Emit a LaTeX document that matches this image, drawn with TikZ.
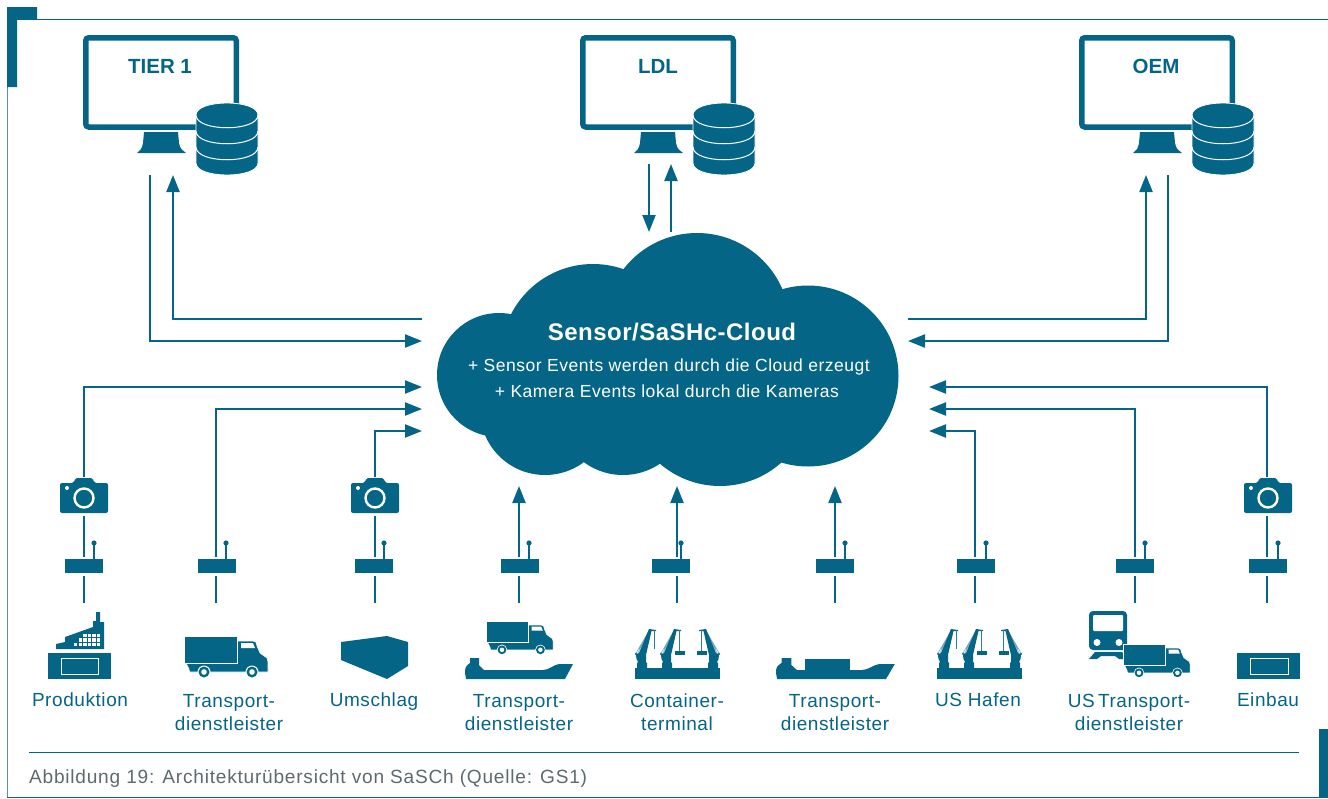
\documentclass[tikz,border=0pt]{standalone}
\usepackage{fontspec}
\setmainfont{Liberation Sans}
\newfontfamily\spacedA[LetterSpace=3]{Liberation Sans}
\newfontfamily\spacedB[LetterSpace=4]{Liberation Sans}
\newfontfamily\spacedC[LetterSpace=2]{Liberation Sans}
\usetikzlibrary{arrows.meta}
\definecolor{teal}{HTML}{056587}
\definecolor{capgrey}{HTML}{5F6A70}
\tikzset{
  x=1pt,y=-1pt,
  conn/.style={draw=teal,line width=2.2pt},
  arr/.style={conn,-{Triangle[length=17pt,width=13pt]}},
  lab/.style={text=teal,font=\spacedA\fontsize{19}{23}\selectfont,align=center,inner sep=0pt,anchor=center},
  mon/.style={text=teal,font=\bfseries\fontsize{20.5}{24}\selectfont,inner sep=0pt},
  tag/.style={fill=teal,minimum width=38pt,minimum height=14pt,inner sep=0pt},
  pics/monitor/.style={code={
    \draw[teal,line width=5.5pt,rounded corners=3pt,fill=white] (2.75,2.75) rectangle (153.25,92);
    \fill[teal] (61,97) -- (95,97) -- (96,108) .. controls (97,114) and (100,116) .. (103,118) -- (54,118) .. controls (57,116) and (59,114) .. (60,108) -- cycle;
    \begin{scope}[shift={(113,68)}]
      \path[fill=teal,draw=white,line width=.8pt] (0,12) .. controls (0,-4) and (62,-4) .. (62,12) -- (62,60) .. controls (62,76) and (0,76) .. (0,60) -- cycle;
      \foreach \yy in {12,28,44}
        \draw[white,line width=1pt] (0,\yy) .. controls (0,\yy+17) and (62,\yy+17) .. (62,\yy);
    \end{scope}
  }},
  pics/camera/.style={code={
    \fill[teal,rounded corners=2pt] (0,5) -- (14,5) -- (15,0) -- (33,0) -- (34,5) -- (48,5) -- (48,35) -- (0,35) -- cycle;
    \draw[white,line width=2.4pt] (24,20) circle[radius=9.5];
    \fill[white] (7,10) circle[radius=2];
  }},
  pics/truck/.style={code={
    \path[fill=teal,draw=white,line width=.6pt] (2,27) -- (53,27) -- (53,5) -- (69,5) .. controls (72,5) and (72,6) .. (73,10) -- (76,17) -- (83,22) .. controls (84,24) and (84,24) .. (84,36) -- (6,36) .. controls (6,36) and (5,36) .. (5,33) -- cycle;
    \path[fill=teal,draw=white,line width=.8pt] (0,0) rectangle (53,27);
    \fill[white] (57,7) -- (69,7) -- (71,12) -- (57,12) -- cycle;
    \foreach \wx in {20,68}{
      \path[fill=white] (\wx,36) circle[radius=6.5];
      \path[fill=teal] (\wx,36) circle[radius=5.5];
      \path[fill=white] (\wx,36) circle[radius=2.8];
    }
  }},
  pics/ship/.style={code={
    \fill[teal] (0,21) .. controls (0,15) and (1,14) .. (5,11) -- (5,6) -- (14,6) -- (14,13) -- (19,18) -- (78,18) .. controls (84,18) and (88,13) .. (94,12) -- (108,12) -- (100,27) -- (1,27) -- cycle;
  }},
  pics/crane/.style={code={
    % local origin: pier's left end, top of the boom at (15,0)
    \draw[teal!55,line width=.6pt] (0.5,25) -- (15,0) (2.5,25) -- (15,0) (4,20) -- (15,0);
    \fill[teal] (14,0) -- (21,1) -- (21,2) -- (16.5,2) -- (11,26) -- (11,33) -- (12,34) -- (12,39) -- (2,39) -- (2,34) -- (3,33) -- (1.5,30) -- (1,26) -- (0,25) -- (1,23.5) -- (2,25) -- (4,24) -- cycle;
  }},
  pics/pier/.style={code={
    \fill[teal] (0,39) rectangle (85,50);
    \pic {crane};
    \draw[teal!85,line width=1pt] (19,1) -- (19,20);
    \pic[shift={(25,0)}] {crane};
    \draw[teal!85,line width=1pt] (44,1) -- (44,22);
    \fill[teal] (40,22) rectangle (50,26);
    \pic[shift={(85,0)},xscale=-1] {crane};
    \draw[teal!85,line width=1pt] (66,1) -- (66,22);
    \fill[teal] (62,22) rectangle (72,26);
  }},
}
\begin{document}
\begin{tikzpicture}
\useasboundingbox (0,0) rectangle (1328,798);
\fill[white] (0,0) rectangle (1328,798);

% frame
\draw[teal,line width=1pt] (8,19) -- (1328,19);
\draw[teal!70,line width=1pt] (7,19) -- (7,798);
\draw[teal,line width=1pt] (7,797) -- (1328,797);
\fill[teal] (7,7) -- (37,7) -- (37,19) -- (17,19) -- (17,87) -- (7,87) -- cycle;
\fill[teal] (1319,729) rectangle (1328,798);
\draw[teal,line width=1pt] (29,752) -- (1299,752);
\node[anchor=base west,inner sep=0pt,text=capgrey,font=\spacedB\fontsize{19.1}{23}\selectfont] (caption) at (29,783) {Abbildung 19: Architekturübersicht von SaSCh (Quelle: GS1)};

% monitors
\pic at (83,35) {monitor};
\pic at (580,35) {monitor};
\pic at (1079,35) {monitor};
\node[mon] (tier) at (160,66) {TIER 1};
\node[mon] (ldl) at (658,66) {LDL};
\node[mon] (oem) at (1156,66) {OEM};

% cloud
\fill[teal] (499,375) circle[radius=62] (593,356) circle[radius=92] (697,326) circle[radius=93]
  (808,376) circle[radius=90.5] (720,394) circle[radius=92] (623,409) circle[radius=66] (545,410) circle[radius=65];
\node[text=white,font=\spacedC\bfseries\fontsize{24}{28}\selectfont,inner sep=0pt] (cloudtitle) at (672,332) {Sensor/SaSHc-Cloud};
\node[text=white,font=\spacedA\fontsize{17.5}{20}\selectfont,inner sep=0pt] (cloudl1) at (669,367) {+ Sensor Events werden durch die Cloud erzeugt};
\node[text=white,font=\spacedA\fontsize{17.5}{20}\selectfont,inner sep=0pt] (cloudl2) at (667,391) {+ Kamera Events lokal durch die Kameras};

% connector ends
\coordinate (c1) at (422,319);
\coordinate (c2) at (422,341);
\coordinate (c3) at (908,319);
\coordinate (c4) at (908,341);
\coordinate (l1) at (422,387);
\coordinate (l2) at (422,409);
\coordinate (l3) at (422,431);
\coordinate (r1) at (929,387);
\coordinate (r2) at (929,409);
\coordinate (r3) at (929,431);
\coordinate (t1a) at (150,175);
\coordinate (t1b) at (173,175);
\coordinate (oa) at (1146,175);
\coordinate (ob) at (1168,175);
\coordinate (la) at (649,164);
\coordinate (lat) at (649,232);
\coordinate (lb) at (671,232);
\coordinate (lbt) at (671,164);

% upper connectors
\draw[arr] (t1a) |- (c2);
\draw[arr] (c1) -| (t1b);
\draw[arr] (la) -- (lat);
\draw[arr] (lb) -- (lbt);
\draw[arr] (c3) -| (oa);
\draw[arr] (ob) |- (c4);

% tags: name, centre, line x, antenna x
\foreach \n/\cx/\lx/\ax in {a/84/84/94,b/217/216/226,c/374/375/384,d/520/519/529,e/671/677/681,f/835/835/845,g/976/975/986,h/1135/1135/1145,i/1268/1267/1278}{
  \node[tag] (tag\n) at (\cx,566) {};
  \coordinate (lo\n) at (\lx,603);
  \coordinate (lm\n) at (\lx,576);
  \coordinate (up\n) at (\lx,557);
  \coordinate (ant\n) at (\ax,543);
  \draw[conn] (lo\n) -- (lm\n);
  \draw[teal,line width=1.6pt] (\ax,559) -- (ant\n);
  \fill[teal] (ant\n) circle[radius=2.6];
}

% cameras
\pic at (60,478) {camera};
\pic at (351,478) {camera};
\pic at (1244,478) {camera};
\coordinate (cama) at (84,516);
\coordinate (camc) at (375,516);
\coordinate (cami) at (1267,516);
\coordinate (camat) at (84,477);
\coordinate (camct) at (375,477);
\coordinate (camit) at (1267,477);
\draw[conn] (upa) -- (cama);
\draw[conn] (upc) -- (camc);
\draw[conn] (upi) -- (cami);

% lower connectors
\draw[arr] (camat) |- (l1);
\draw[arr] (upb) |- (l2);
\draw[arr] (camct) |- (l3);
\draw[arr] (camit) |- (r1);
\draw[arr] (uph) |- (r2);
\draw[arr] (upg) |- (r3);
\coordinate (d1) at (519,486);
\coordinate (e1) at (677,486);
\coordinate (f1) at (835,486);
\draw[arr] (upd) -- (d1);
\draw[arr] (upe) -- (e1);
\draw[arr] (upf) -- (f1);

% Produktion
\fill[teal] (48,653) rectangle (111,679);
\draw[white,line width=1pt] (61,658.5) rectangle (98,674);
\fill[teal] (56,649) -- (56,644) -- (65,642) -- (65,637) -- (93,627) -- (93,621) -- (96,621) -- (96,612) -- (100,612) -- (100,622) -- (104,622) -- (104,649) -- cycle;
\foreach \gx/\gy in {83.3/633.5,87.7/633.5,92.3/633.5,96.7/633.5,78.7/638.3,83.3/638.3,87.7/638.3,92.3/638.3,96.7/638.3,74/643,78.7/643,83.3/643,87.7/643,92.3/643,96.7/643}
  \fill[white] (\gx,\gy) rectangle ++(3.4,3.4);

% vehicles and places
\pic at (184,636) {truck};
\fill[teal] (341,642) -- (387,636) -- (408,642) -- (408,666) -- (387,679) -- (341,660) -- cycle;
\pic[scale=.8] at (486,621) {truck};
\pic at (465,652) {ship};
\pic at (635,629) {pier};
\pic[xscale=1.1] at (776,652) {ship};
\fill[teal] (805,659) rectangle (850,670);
\pic at (937,629) {pier};

% train
\fill[teal,rounded corners=4pt] (1089,611) rectangle (1127,650);
\fill[white,rounded corners=1pt] (1093,615) rectangle (1123,631);
\fill[white] (1097,642.5) circle[radius=3.5] (1119,642.5) circle[radius=3.5];
\fill[teal] (1089,659) -- (1095,652) -- (1122,652) -- (1128,659) -- (1119,659) -- (1115,656) -- (1101,656) -- (1097,659) -- cycle;
\pic[scale=.8] at (1123,644) {truck};

% Einbau
\fill[teal] (1237,653) rectangle (1300,679);
\draw[white,line width=1pt] (1250,658.5) rectangle (1288,674);

% labels
\node[lab] (n1) at (80,702) {Produktion\strut};
\node[lab] (n2) at (229,714) {Transport-\strut\\dienstleister\strut};
\node[lab] (n3) at (374,702) {Umschlag\strut};
\node[lab] (n4) at (519,714) {Transport-\strut\\dienstleister\strut};
\node[lab] (n5) at (677,714) {Container-\strut\\terminal\strut};
\node[lab] (n6) at (835,714) {Transport-\strut\\dienstleister\strut};
\node[lab] (n7) at (978,702) {US Hafen\strut};
\node[lab] (n8) at (1129,714) {US\,Transport-\strut\\dienstleister\strut};
\node[lab] (n9) at (1268,702) {Einbau\strut};
\end{tikzpicture}
\end{document}
